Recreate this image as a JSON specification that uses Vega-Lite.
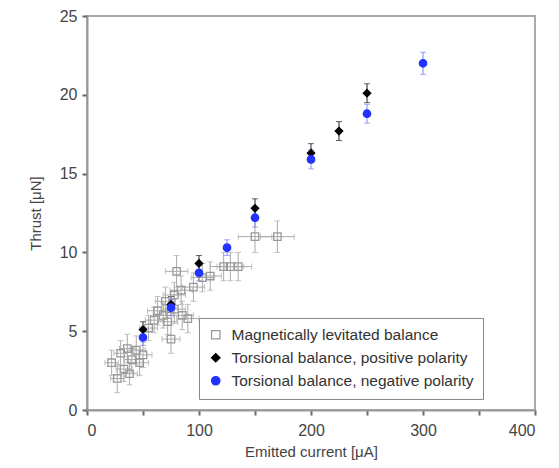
{
  "$schema": "https://vega.github.io/schema/vega-lite/v6.json",
  "autosize": {"type": "none"},
  "padding": {"left": 87, "top": 16, "right": 24, "bottom": 58},
  "width": 448,
  "height": 394,
  "background": "white",
  "config": {
    "font": "Liberation Sans",
    "view": {"stroke": "#aaaaaa", "strokeWidth": 2},
    "axis": {
      "domainColor": "#999999", "domainWidth": 2, "ticks": true, "tickColor": "#666666", "tickWidth": 2, "tickSize": 5,
      "labelColor": "#444444", "labelFontSize": 16, "titleColor": "#444444",
      "titleFontSize": 15, "titleFontWeight": "normal", "grid": false
    },
    "axisX": {"ticks": true, "tickSize": 5, "tickColor": "#666666"},
    "axisY": {"ticks": true, "tickSize": 5, "tickColor": "#666666"}
  },
  "data": {"values": [
    {"s": "Magnetically levitated balance", "x": 22, "y": 3.0, "xe": 6, "ye": 0.8},
    {"s": "Magnetically levitated balance", "x": 27, "y": 2.0, "xe": 6, "ye": 0.9},
    {"s": "Magnetically levitated balance", "x": 30, "y": 3.6, "xe": 6, "ye": 0.8},
    {"s": "Magnetically levitated balance", "x": 33, "y": 2.6, "xe": 7, "ye": 0.8},
    {"s": "Magnetically levitated balance", "x": 36, "y": 3.9, "xe": 7, "ye": 0.9},
    {"s": "Magnetically levitated balance", "x": 40, "y": 3.2, "xe": 7, "ye": 0.8},
    {"s": "Magnetically levitated balance", "x": 44, "y": 3.8, "xe": 8, "ye": 0.9},
    {"s": "Magnetically levitated balance", "x": 47, "y": 3.0, "xe": 8, "ye": 0.8},
    {"s": "Magnetically levitated balance", "x": 50, "y": 3.5, "xe": 8, "ye": 0.8},
    {"s": "Magnetically levitated balance", "x": 38, "y": 2.3, "xe": 7, "ye": 0.7},
    {"s": "Magnetically levitated balance", "x": 55, "y": 5.2, "xe": 8, "ye": 0.8},
    {"s": "Magnetically levitated balance", "x": 60, "y": 5.7, "xe": 8, "ye": 0.8},
    {"s": "Magnetically levitated balance", "x": 63, "y": 6.3, "xe": 9, "ye": 0.9},
    {"s": "Magnetically levitated balance", "x": 68, "y": 6.0, "xe": 9, "ye": 0.8},
    {"s": "Magnetically levitated balance", "x": 72, "y": 5.6, "xe": 9, "ye": 0.8},
    {"s": "Magnetically levitated balance", "x": 70, "y": 6.9, "xe": 9, "ye": 0.9},
    {"s": "Magnetically levitated balance", "x": 78, "y": 6.4, "xe": 10, "ye": 0.9},
    {"s": "Magnetically levitated balance", "x": 85, "y": 6.0, "xe": 10, "ye": 0.9},
    {"s": "Magnetically levitated balance", "x": 90, "y": 5.8, "xe": 10, "ye": 0.9},
    {"s": "Magnetically levitated balance", "x": 75, "y": 4.5, "xe": 8, "ye": 0.9},
    {"s": "Magnetically levitated balance", "x": 78, "y": 7.3, "xe": 10, "ye": 0.8},
    {"s": "Magnetically levitated balance", "x": 84, "y": 7.6, "xe": 10, "ye": 0.9},
    {"s": "Magnetically levitated balance", "x": 80, "y": 8.8, "xe": 10, "ye": 1.0},
    {"s": "Magnetically levitated balance", "x": 95, "y": 7.8, "xe": 10, "ye": 0.9},
    {"s": "Magnetically levitated balance", "x": 103, "y": 8.4, "xe": 10, "ye": 0.9},
    {"s": "Magnetically levitated balance", "x": 110, "y": 8.5, "xe": 10, "ye": 0.9},
    {"s": "Magnetically levitated balance", "x": 122, "y": 9.1, "xe": 12, "ye": 0.9},
    {"s": "Magnetically levitated balance", "x": 128, "y": 9.1, "xe": 12, "ye": 0.9},
    {"s": "Magnetically levitated balance", "x": 135, "y": 9.1, "xe": 12, "ye": 0.9},
    {"s": "Magnetically levitated balance", "x": 150, "y": 11.0, "xe": 15, "ye": 1.0},
    {"s": "Magnetically levitated balance", "x": 170, "y": 11.0, "xe": 15, "ye": 1.0},
    {"s": "Torsional balance, positive polarity", "x": 50, "y": 5.1, "xe": 0, "ye": 0.5},
    {"s": "Torsional balance, positive polarity", "x": 75, "y": 6.7, "xe": 0, "ye": 0.5},
    {"s": "Torsional balance, positive polarity", "x": 100, "y": 9.3, "xe": 0, "ye": 0.5},
    {"s": "Torsional balance, positive polarity", "x": 150, "y": 12.8, "xe": 0, "ye": 0.6},
    {"s": "Torsional balance, positive polarity", "x": 200, "y": 16.3, "xe": 0, "ye": 0.6},
    {"s": "Torsional balance, positive polarity", "x": 225, "y": 17.7, "xe": 0, "ye": 0.6},
    {"s": "Torsional balance, positive polarity", "x": 250, "y": 20.1, "xe": 0, "ye": 0.6},
    {"s": "Torsional balance, negative polarity", "x": 50, "y": 4.6, "xe": 0, "ye": 0.5},
    {"s": "Torsional balance, negative polarity", "x": 75, "y": 6.5, "xe": 0, "ye": 0.5},
    {"s": "Torsional balance, negative polarity", "x": 100, "y": 8.7, "xe": 0, "ye": 0.5},
    {"s": "Torsional balance, negative polarity", "x": 125, "y": 10.3, "xe": 0, "ye": 0.5},
    {"s": "Torsional balance, negative polarity", "x": 150, "y": 12.2, "xe": 0, "ye": 0.6},
    {"s": "Torsional balance, negative polarity", "x": 200, "y": 15.9, "xe": 0, "ye": 0.6},
    {"s": "Torsional balance, negative polarity", "x": 250, "y": 18.8, "xe": 0, "ye": 0.6},
    {"s": "Torsional balance, negative polarity", "x": 300, "y": 22.0, "xe": 0, "ye": 0.7}
  ]},
  "transform": [
    {"calculate": "datum.x - datum.xe", "as": "xlo"},
    {"calculate": "datum.x + datum.xe", "as": "xhi"},
    {"calculate": "datum.y - datum.ye", "as": "ylo"},
    {"calculate": "datum.y + datum.ye", "as": "yhi"}
  ],
  "encoding": {
    "x": {"type": "quantitative", "title": "Emitted current [μA]", "scale": {"domain": [0, 400]}},
    "y": {"type": "quantitative", "title": "Thrust [μN]", "scale": {"domain": [0, 25]}}
  },
  "layer": [
    {
      "transform": [{"filter": "datum.xe > 0"}],
      "mark": {"type": "errorbar", "ticks": {"size": 6}, "color": "#aaaaaa", "thickness": 1},
      "encoding": {
        "x": {"field": "xlo", "type": "quantitative", "title": "Emitted current [μA]"},
        "x2": {"field": "xhi"},
        "y": {"field": "y", "type": "quantitative", "title": "Thrust [μN]"}
      }
    },
    {
      "transform": [{"filter": "datum.xe > 0"}],
      "mark": {"type": "errorbar", "ticks": {"size": 6}, "color": "#aaaaaa", "thickness": 1},
      "encoding": {
        "x": {"field": "x", "type": "quantitative", "title": "Emitted current [μA]"},
        "y": {"field": "ylo", "type": "quantitative", "title": "Thrust [μN]"},
        "y2": {"field": "yhi"}
      }
    },
    {
      "transform": [{"filter": "datum.s === 'Torsional balance, positive polarity'"}],
      "mark": {"type": "errorbar", "ticks": {"size": 6}, "color": "#222222", "thickness": 1},
      "encoding": {
        "x": {"field": "x", "type": "quantitative", "title": "Emitted current [μA]"},
        "y": {"field": "ylo", "type": "quantitative", "title": "Thrust [μN]"},
        "y2": {"field": "yhi"}
      }
    },
    {
      "transform": [{"filter": "datum.s === 'Torsional balance, negative polarity'"}],
      "mark": {"type": "errorbar", "ticks": {"size": 6}, "color": "#7788ff", "thickness": 1},
      "encoding": {
        "x": {"field": "x", "type": "quantitative", "title": "Emitted current [μA]"},
        "y": {"field": "ylo", "type": "quantitative", "title": "Thrust [μN]"},
        "y2": {"field": "yhi"}
      }
    },
    {
      "mark": {"type": "point", "filled": true, "size": 55, "strokeWidth": 1.3, "opacity": 1},
      "encoding": {
        "x": {"field": "x", "type": "quantitative", "title": "Emitted current [μA]",
          "axis": {"ticks": true, "tickColor": "#666666", "tickWidth": 2, "tickSize": 5, "tickOpacity": 1,
                   "values": [0,25,50,75,100,125,150,175,200,225,250,275,300,325,350,375,400],
                   "labelExpr": "datum.value % 100 === 0 ? datum.label : ''", "labelPadding": 7, "titlePadding": 6}},
        "y": {"field": "y", "type": "quantitative", "title": "Thrust [μN]",
          "axis": {"ticks": true, "tickColor": "#666666", "tickWidth": 2, "tickSize": 5, "tickOpacity": 1,
                   "values": [0,2.5,5,7.5,10,12.5,15,17.5,20,22.5,25],
                   "labelExpr": "datum.value % 5 === 0 ? datum.label : ''", "labelPadding": 5, "titlePadding": 16}},
        "shape": {"field": "s", "type": "nominal", "title": null,
          "scale": {"domain": ["Magnetically levitated balance", "Torsional balance, positive polarity", "Torsional balance, negative polarity"],
                    "range": ["square", "diamond", "circle"]}},
        "fill": {"field": "s", "type": "nominal", "title": null,
          "scale": {"domain": ["Magnetically levitated balance", "Torsional balance, positive polarity", "Torsional balance, negative polarity"],
                    "range": ["transparent", "#000000", "#2233ff"]}},
        "stroke": {"field": "s", "type": "nominal", "title": null,
          "scale": {"domain": ["Magnetically levitated balance", "Torsional balance, positive polarity", "Torsional balance, negative polarity"],
                    "range": ["#999999", "#000000", "#2233ff"]},
          "legend": {"orient": "none", "legendX": 112, "legendY": 302, "padding": 9,
                     "strokeColor": "#888888", "fillColor": "white", "labelFontSize": 15.5, "labelLimit": 500,
                     "labelColor": "#333333", "symbolSize": 70, "rowPadding": 6, "labelOffset": 8,
                     "symbolStrokeWidth": 1.3}}
      }
    }
  ]
}
